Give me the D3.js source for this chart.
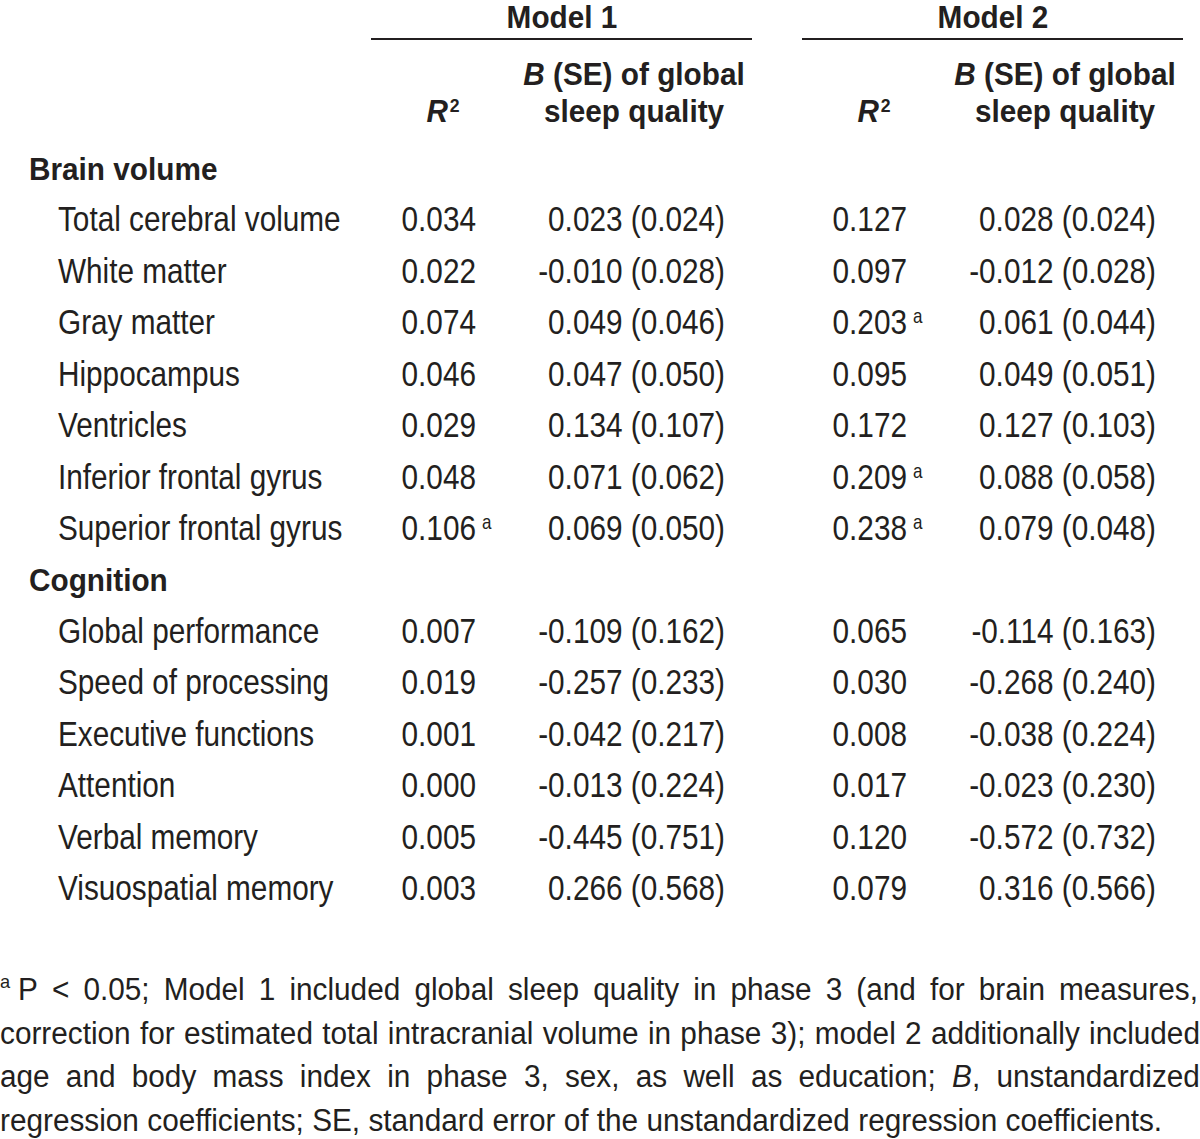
<!DOCTYPE html>
<html><head><meta charset="utf-8">
<script src="https://cdn.jsdelivr.net/npm/d3@7"></script>
<style>
html,body{margin:0;padding:0;background:#fff;}
svg{display:block;}
text{font-family:"Liberation Sans",Arial,Helvetica,sans-serif;fill:#231f20;}
</style>
</head><body>
<svg id="c" width="1200" height="1139"></svg>
<script>
// ---------------- data ----------------
const modelNames = ["Model 1", "Model 2"];
const sections = ["Brain volume", "Cognition"];
const measures = ["Total cerebral volume", "White matter", "Gray matter", "Hippocampus", "Ventricles",
  "Inferior frontal gyrus", "Superior frontal gyrus",
  "Global performance", "Speed of processing", "Executive functions", "Attention",
  "Verbal memory", "Visuospatial memory"];
const measureSection = ["Brain volume","Brain volume","Brain volume","Brain volume","Brain volume","Brain volume","Brain volume",
  "Cognition","Cognition","Cognition","Cognition","Cognition","Cognition"];
const r2Model1 = [0.034, 0.022, 0.074, 0.046, 0.029, 0.048, 0.106, 0.007, 0.019, 0.001, 0.000, 0.005, 0.003];
const bModel1  = [0.023, -0.010, 0.049, 0.047, 0.134, 0.071, 0.069, -0.109, -0.257, -0.042, -0.013, -0.445, 0.266];
const seModel1 = [0.024, 0.028, 0.046, 0.050, 0.107, 0.062, 0.050, 0.162, 0.233, 0.217, 0.224, 0.751, 0.568];
const sigModel1 = [false, false, false, false, false, false, true, false, false, false, false, false, false];
const r2Model2 = [0.127, 0.097, 0.203, 0.095, 0.172, 0.209, 0.238, 0.065, 0.030, 0.008, 0.017, 0.120, 0.079];
const bModel2  = [0.028, -0.012, 0.061, 0.049, 0.127, 0.088, 0.079, -0.114, -0.268, -0.038, -0.023, -0.572, 0.316];
const seModel2 = [0.024, 0.028, 0.044, 0.051, 0.103, 0.058, 0.048, 0.163, 0.240, 0.224, 0.230, 0.732, 0.566];
const sigModel2 = [false, false, true, false, false, true, true, false, false, false, false, false, false];
const footnoteLines = [
  "P < 0.05; Model 1 included global sleep quality in phase 3 (and for brain measures,",
  "correction for estimated total intracranial volume in phase 3); model 2 additionally included",
  "age and body mass index in phase 3, sex, as well as education; _B_, unstandardized",
  "regression coefficients; SE, standard error of the unstandardized regression coefficients."
];

// ---------------- drawing ----------------
const svg = d3.select("#c");
const INK = "#231f20";
const BODY = 35, BODY_K = 0.85;
const BOLD = 32, BOLD_K = 0.93;
const fmt = d3.formatLocale({decimal: ".", thousands: ",", grouping: [3], currency: ["", ""], minus: "-"}).format(".3f");

function txt(x, y, k, size, anchor, weight) {
  return svg.append("text")
    .attr("transform", `translate(${x},${y}) scale(${k},1)`)
    .attr("font-size", size)
    .attr("font-weight", weight || "normal")
    .attr("text-anchor", anchor || "start");
}

// rows
const rows = [];
sections.forEach(sec => {
  rows.push({type: "section", label: sec});
  measures.forEach((m, i) => { if (measureSection[i] === sec) rows.push({type: "measure", i}); });
});
const y = d3.scalePoint().domain(d3.range(rows.length)).range([180, 900]);

// columns (right edges of values)
const cols = ["r2m1", "bm1", "r2m2", "bm2"];
const x = d3.scaleOrdinal().domain(cols).range([476, 725, 907, 1156]);
const headerCenter = d3.scaleOrdinal().domain(cols).range([443, 634, 874, 1065]);
const modelCenter = d3.scaleOrdinal().domain(modelNames).range([562, 993]);
const modelSpan = d3.scaleOrdinal().domain(modelNames).range([[371, 752], [802, 1183]]);

// header
modelNames.forEach(m => {
  txt(modelCenter(m), 28, BOLD_K, BOLD, "middle", "bold").text(m);
  const [a, b] = modelSpan(m);
  svg.append("line").attr("x1", a).attr("x2", b).attr("y1", 39).attr("y2", 39)
    .attr("stroke", INK).attr("stroke-width", 2.2);
});
["r2m1", "r2m2"].forEach(c => {
  const t = txt(headerCenter(c), 122, BOLD_K, BOLD, "middle", "bold");
  t.append("tspan").attr("font-style", "italic").text("R");
  t.append("tspan").attr("font-size", 19).attr("dy", -10).attr("dx", 2).text("2");
});
["bm1", "bm2"].forEach(c => {
  const t = txt(headerCenter(c), 85, BOLD_K, BOLD, "middle", "bold");
  t.append("tspan").attr("font-style", "italic").text("B");
  t.append("tspan").text(" (SE) of global");
  txt(headerCenter(c), 122, BOLD_K, BOLD, "middle", "bold").text("sleep quality");
});

// body
rows.forEach((r, ri) => {
  const yy = y(ri);
  if (r.type === "section") {
    txt(29, yy, BOLD_K, BOLD, "start", "bold").text(r.label);
    return;
  }
  const i = r.i;
  txt(58, yy, BODY_K, BODY).text(measures[i]);
  const cells = [
    {c: "r2m1", s: fmt(r2Model1[i]), sig: sigModel1[i]},
    {c: "bm1", s: `${fmt(bModel1[i])} (${fmt(seModel1[i])})`},
    {c: "r2m2", s: fmt(r2Model2[i]), sig: sigModel2[i]},
    {c: "bm2", s: `${fmt(bModel2[i])} (${fmt(seModel2[i])})`}
  ];
  cells.forEach(d => {
    txt(x(d.c), yy, BODY_K, BODY, "end").text(d.s);
    if (d.sig) txt(x(d.c) + 6, yy - 11, BODY_K, 20).text("a");
  });
});

// footnote (justified)
const FOOT = 31;
function segs(word) {
  const out = [];
  word.split(/(_[^_]+_)/).forEach(p => {
    if (!p) return;
    if (p.startsWith("_") && p.endsWith("_")) out.push({t: p.slice(1, -1), it: true});
    else out.push({t: p, it: false});
  });
  return out;
}
function fillSegs(t, word) {
  segs(word).forEach(s => t.append("tspan").attr("font-style", s.it ? "italic" : "normal").text(s.t));
}
function measure(str) {
  const t = svg.append("text").attr("font-size", FOOT);
  fillSegs(t, str);
  const w = t.node().getComputedTextLength();
  t.remove();
  return w;
}
const lastNatural = measure(footnoteLines[3].replace(/_/g, ""));
const FK = 1162 / lastNatural;
const footBase = [1000, 1043.5, 1087, 1130.5];
const footSpan = [[18, 1198], [0, 1200], [0, 1200], [0, null]];
txt(0, 988, FK, 19).text("a");
footnoteLines.forEach((line, li) => {
  const g = svg.append("g").attr("transform", `translate(${footSpan[li][0]},${footBase[li]}) scale(${FK},1)`);
  const words = line.split(" ");
  const widths = words.map(measure);
  const spaceW = measure("a a") - measure("aa");
  let gap = spaceW;
  if (footSpan[li][1] !== null) {
    const target = (footSpan[li][1] - footSpan[li][0]) / FK;
    gap = (target - d3.sum(widths)) / (words.length - 1);
  }
  let cx = 0;
  words.forEach((w, wi) => {
    const t = g.append("text").attr("x", cx).attr("font-size", FOOT);
    fillSegs(t, w);
    cx += widths[wi] + gap;
  });
});
</script>
</body></html>
